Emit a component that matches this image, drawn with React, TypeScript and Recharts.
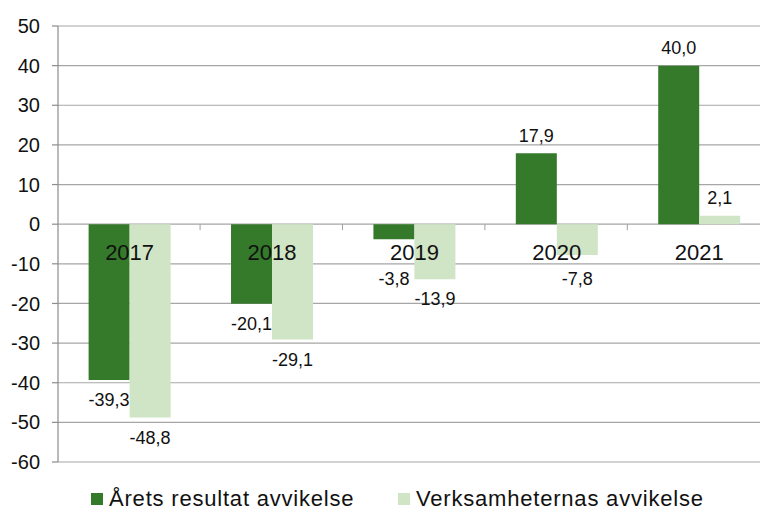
import React from 'react';
import { BarChart, Bar, XAxis, YAxis, CartesianGrid, LabelList, Legend } from 'recharts';

const years = ['2017', '2018', '2019', '2020', '2021'];
const aretsResultat = [-39.3, -20.1, -3.8, 17.9, 40.0];
const verksamheternas = [-48.8, -29.1, -13.9, -7.8, 2.1];
const seriesNames = ['Årets resultat avvikelse', 'Verksamheternas avvikelse'];
const seriesColors = ['#357a2a', '#d0e4c6'];
const yTicks = [-60, -50, -40, -30, -20, -10, 0, 10, 20, 30, 40, 50];

const data = years.map((year, i) => ({ year, a: aretsResultat[i], v: verksamheternas[i] }));

const FONT = '"Liberation Sans", Arial, sans-serif';
const GAP = 0.215;

const fmt = (v: number) => v.toFixed(1).replace('.', ',');

const box = (props: any) => {
  const vb = props.viewBox || {};
  const x = props.x ?? vb.x;
  const y = props.y ?? vb.y;
  const width = props.width ?? vb.width;
  const height = props.height ?? vb.height;
  return { x, y, width, height, top: Math.min(y, y + height), bottom: Math.max(y, y + height) };
};

const ValueLabel = (props: any) => {
  const { value } = props;
  const b = box(props);
  const cx = b.x + b.width / 2;
  const cy = value >= 0 ? b.top - 17.5 : Math.max(b.bottom + 20, b.top + 55);
  return (
    <text x={cx} y={cy} textAnchor="middle" dominantBaseline="central" fill="#111" fontSize={18} fontFamily={FONT}>
      {fmt(value)}
    </text>
  );
};

const CategoryLabel = (props: any) => {
  const { index } = props;
  const b = box(props);
  const v = verksamheternas[index];
  const zero = v >= 0 ? b.bottom : b.top;
  const cx = b.x;
  const catW = (2 * b.width) / (1 - 2 * GAP);
  return (
    <g>
      {index > 0 && (
        <line x1={cx - catW / 2} x2={cx - catW / 2} y1={zero} y2={zero + 6} stroke="#a0a0a0" strokeWidth={1} />
      )}
      <text x={cx} y={zero + 28} textAnchor="middle" dominantBaseline="central" fill="#111" fontSize={22} fontFamily={FONT}>
        {years[index]}
      </text>
    </g>
  );
};

const legendLefts = [91, 398];

const LegendContent = (props: any) => {
  return (
    <div style={{ position: 'relative', height: 24, width: 760 }}>
      {seriesNames.map((name, i) => (
        <div
          key={name}
          style={{
            position: 'absolute',
            left: legendLefts[i],
            top: 0,
            height: 24,
            display: 'flex',
            alignItems: 'center',
            fontFamily: FONT,
            fontSize: 22,
            letterSpacing: 0.8,
            color: '#111',
            whiteSpace: 'nowrap',
          }}
        >
          <span style={{ display: 'inline-block', width: 12, height: 12, background: seriesColors[i], marginRight: 6 }} />
          <span>{name}</span>
        </div>
      ))}
    </div>
  );
};

export default function App() {
  return (
    <div style={{ position: 'absolute', left: 0, top: 0, width: 760, height: 512, overflow: 'hidden', background: '#fff' }}>
      <BarChart
        width={772}
        height={512}
        data={data}
        margin={{ top: 26, right: 2, left: 0, bottom: 26 }}
        barCategoryGap={`${GAP * 100}%`}
        barGap={0}
      >
        <CartesianGrid vertical={false} stroke="#a6a6a6" strokeWidth={1.2} />
        <XAxis dataKey="year" hide />
        <YAxis
          width={58}
          domain={[-60, 50]}
          ticks={yTicks}
          interval={0}
          axisLine={{ stroke: '#8c8c8c', strokeWidth: 1.2 }}
          tickLine={{ stroke: '#8c8c8c', strokeWidth: 1.2 }}
          tickSize={6}
          tickMargin={12}
          tick={{ fill: '#111', fontSize: 20, fontFamily: FONT }}
        />
        <Legend
          verticalAlign="bottom"
          content={<LegendContent />}
          wrapperStyle={{ left: 0, top: 487, bottom: 'auto', width: 760, height: 24 }}
        />
        <Bar dataKey="a" name={seriesNames[0]} fill={seriesColors[0]} isAnimationActive={false}>
          <LabelList dataKey="a" content={<ValueLabel />} />
        </Bar>
        <Bar dataKey="v" name={seriesNames[1]} fill={seriesColors[1]} isAnimationActive={false}>
          <LabelList dataKey="v" content={<ValueLabel />} />
          <LabelList dataKey="year" content={<CategoryLabel />} />
        </Bar>
      </BarChart>
    </div>
  );
}
